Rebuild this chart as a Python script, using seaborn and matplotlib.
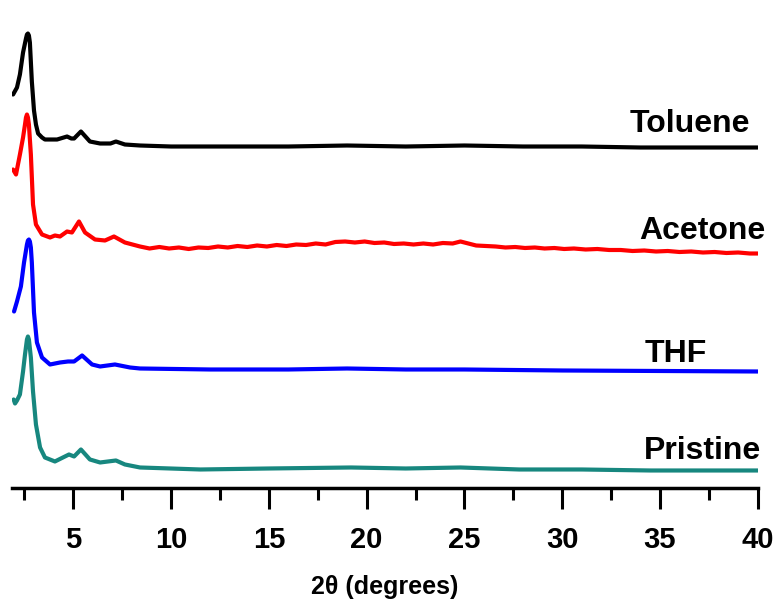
import matplotlib.pyplot as plt
from matplotlib.ticker import MultipleLocator
import pandas as pd
import seaborn as sns

# XRD patterns, 2-theta (degrees) vs stacked intensity (a.u.)
toluene_tt = [1.92, 2.12, 2.27, 2.43, 2.58, 2.63, 2.68, 2.73, 2.78, 2.88, 2.99, 3.09, 3.20,
              3.40, 3.55, 4.17, 4.68, 4.90, 5.04, 5.39, 5.85, 6.37, 6.90, 7.18, 7.64, 8.41,
              10, 13, 16, 19, 22, 25, 28, 31, 34, 37, 40]
toluene_i = [394, 401, 414, 436, 450, 454, 455, 453, 446, 407, 378, 364, 355,
             351, 349, 349, 352, 350, 350, 357, 347, 345, 345, 347, 344, 343,
             342, 342, 342, 343, 342, 343, 342, 342, 341, 341, 341]

acetone_tt = [1.92, 2.07, 2.27, 2.43, 2.53, 2.58, 2.63, 2.68, 2.73, 2.83, 2.94, 3.09, 3.40,
              3.81, 4.06, 4.32, 4.68, 4.93, 5.29, 5.60, 6.11, 6.62, 7.08, 7.64, 8.41, 8.9,
              9.4, 9.9, 10.4, 10.9, 11.4, 11.9, 12.4, 12.9, 13.4, 13.9, 14.4, 14.9, 15.4,
              15.9, 16.4, 16.9, 17.4, 17.9, 18.4, 18.9, 19.4, 19.9, 20.4, 20.9, 21.4,
              21.9, 22.4, 22.9, 23.4, 23.9, 24.4, 24.8, 25.2, 25.6, 26.1, 26.6, 27.1,
              27.6, 28.1, 28.6, 29.1, 29.6, 30.1, 30.6, 31.2, 31.8, 32.4, 33.0, 33.6,
              34.2, 34.8, 35.4, 36.0, 36.6, 37.2, 37.8, 38.4, 39.0, 39.6, 40.0]
acetone_i = [319, 314, 334, 351, 364, 371, 374, 371, 364, 334, 284, 264, 254,
             251, 253, 252, 257, 256, 267, 256, 249, 248, 252, 246, 242, 240,
             241.5, 240, 241, 239.5, 241, 240.5, 242, 241, 242.5, 241.5, 243, 242, 243.5,
             242.5, 244, 243.5, 245, 244, 246.5, 247, 246, 247, 245.5, 246, 244.5,
             245, 244, 245, 244, 245.5, 245, 247, 245, 243, 242.5, 242, 241,
             241.5, 240.5, 241, 240, 240.5, 239.5, 240, 239, 239.5, 238.5, 238.5, 237.5,
             238, 237, 237.5, 236.5, 237, 236, 236.5, 235.5, 236, 235, 235]

thf_tt = [1.97, 2.12, 2.32, 2.48, 2.63, 2.68, 2.73, 2.78, 2.83, 2.88, 2.99, 3.14, 3.40,
          3.81, 4.32, 4.73, 5.04, 5.45, 5.96, 6.37, 7.13, 7.90, 8.41, 12, 16, 19, 22,
          25, 30, 35, 40]
thf_i = [177, 187, 202, 226, 244, 248, 249, 247, 241, 226, 176, 146, 131,
         124, 126, 127, 127, 133, 124, 122, 124, 121, 120, 119, 119, 120, 119,
         119, 118, 117.5, 117]

pristine_tt = [1.95, 2.02, 2.12, 2.27, 2.43, 2.53, 2.63, 2.68, 2.73, 2.83, 2.94, 3.09, 3.30,
               3.55, 4.06, 4.47, 4.78, 5.04, 5.39, 5.85, 6.37, 7.18, 7.64, 8.41, 11.5, 15,
               19.2, 22, 24.8, 27.8, 31, 34.5, 40]
pristine_i = [89, 85, 88, 94, 117, 134, 149, 152, 149, 131, 97, 64, 41,
              31, 27, 31, 34, 32, 39, 29, 26, 28, 24, 21, 19, 20,
              21, 20, 21, 19, 19, 18, 18]

samples = ['Toluene', 'Acetone', 'THF', 'Pristine']
colors = ['#000000', '#ff0000', '#0000ff', '#17877f']
label_x = [33.45, 33.95, 34.2, 34.2]
label_y = [357, 249, 126, 29]

frames = []
for name, tt, inten in zip(samples,
                           [toluene_tt, acetone_tt, thf_tt, pristine_tt],
                           [toluene_i, acetone_i, thf_i, pristine_i]):
    frames.append(pd.DataFrame({'two_theta': tt, 'intensity': inten, 'sample': name}))
df = pd.concat(frames, ignore_index=True)

sns.set_style("white")
plt.rcParams['font.family'] = ['Liberation Sans', 'DejaVu Sans']
plt.rcParams['font.weight'] = 'bold'

fig = plt.figure(figsize=(7.78, 5.99), dpi=100)
ax = fig.add_axes([0.01504, 0.1845, 0.9589, 0.7846])

sns.lineplot(data=df, x='two_theta', y='intensity', hue='sample', hue_order=samples,
             palette=colors, estimator=None, sort=False, linewidth=3.0,
             legend=False, ax=ax)

for name, tx, ty in zip(samples, label_x, label_y):
    ax.text(tx, ty, name, ha='left', va='baseline', fontsize=23, fontweight='bold',
            color='black')

ax.set_xlim(1.85, 40)
ax.set_ylim(0, 470)
ax.xaxis.set_major_locator(MultipleLocator(5))
ax.xaxis.set_minor_locator(MultipleLocator(2.5))
ax.set_yticks([])

for side in ['top', 'right', 'left']:
    ax.spines[side].set_visible(False)
ax.spines['bottom'].set_linewidth(2.5)
ax.spines['bottom'].set_color('black')

ax.tick_params(axis='x', which='major', bottom=True, direction='out', length=15,
               width=2.2, pad=12, labelsize=21, colors='black')
ax.tick_params(axis='x', which='minor', bottom=True, direction='out', length=8.5,
               width=2.2, colors='black')
for lab in ax.get_xticklabels():
    lab.set_fontweight('bold')

ax.set_xlabel('2θ (degrees)', fontsize=18, fontweight='bold', labelpad=15,
              color='black')
ax.set_ylabel('')

fig.savefig('out.png', dpi=100)
